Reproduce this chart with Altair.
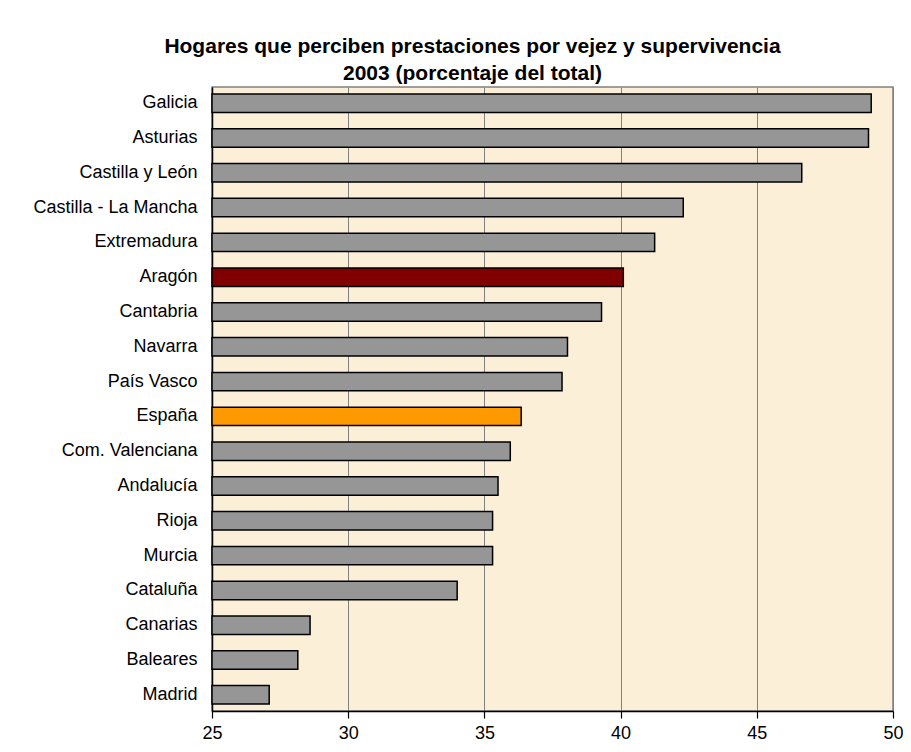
import altair as alt
import pandas as pd

regions = ["Galicia", "Asturias", "Castilla y León", "Castilla - La Mancha",
           "Extremadura", "Aragón", "Cantabria", "Navarra", "País Vasco",
           "España", "Com. Valenciana", "Andalucía", "Rioja", "Murcia",
           "Cataluña", "Canarias", "Baleares", "Madrid"]
values = [49.2, 49.1, 46.65, 42.3, 41.25, 40.1, 39.3, 38.05, 37.85,
          36.35, 35.95, 35.5, 35.3, 35.3, 34.0, 28.6, 28.15, 27.1]
groups = ["otra", "otra", "otra", "otra", "otra", "aragon", "otra", "otra", "otra",
          "espana", "otra", "otra", "otra", "otra", "otra", "otra", "otra", "otra"]
x_ticks = [25, 30, 35, 40, 45, 50]

df = pd.DataFrame({"region": regions, "valor": values, "grupo": groups})

FONT = "Liberation Sans"

bars = alt.Chart(df).mark_bar(stroke="black", strokeWidth=1.5).encode(
    y=alt.Y("region:N", sort=regions,
            scale=alt.Scale(paddingInner=0.47, paddingOuter=0.2),
            axis=alt.Axis(title=None, ticks=False, labelPadding=15,
                          labelFontSize=18, labelColor="black", labelFont=FONT,
                          domainColor="black", domainWidth=1.5, grid=False)),
    x=alt.X("valor:Q",
            scale=alt.Scale(domain=[25, 50], nice=False, zero=False),
            axis=alt.Axis(title=None, values=x_ticks, grid=True, gridColor="#808080",
                          gridWidth=1, tickColor="black", tickSize=7, tickWidth=1.2,
                          labelPadding=6, labelFontSize=18, labelColor="black",
                          labelFont=FONT, labelFlush=False,
                          domainColor="black", domainWidth=1.5)),
    x2=alt.datum(25),
    color=alt.Color("grupo:N",
                    scale=alt.Scale(domain=["otra", "aragon", "espana"],
                                    range=["#969696", "#800000", "#FF9900"]),
                    legend=None),
)

chart = bars.properties(
    width=681, height=624,
    title=alt.TitleParams(
        text=["Hogares que perciben prestaciones por vejez y supervivencia",
              "2003 (porcentaje del total)"],
        anchor="middle", dx=-80, fontSize=21, font=FONT, fontWeight="bold",
        color="black", lineHeight=27, offset=3),
    autosize=alt.AutoSizeParams(type="none"),
    padding={"left": 204, "top": 79, "right": 10, "bottom": 30},
    background="white",
).configure_view(fill="#FBEFD8", stroke="#808080", strokeWidth=1.5)

chart.save("out.html", embed_options={"renderer": "svg", "actions": False})
